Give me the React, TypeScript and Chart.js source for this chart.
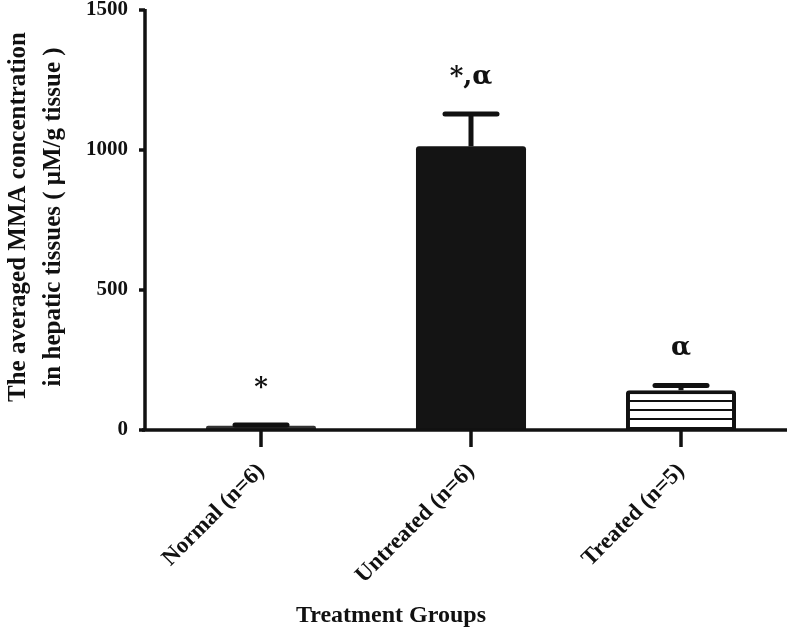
import React, { useEffect, useRef } from "react";
import { Chart, registerables } from "chart.js";

Chart.register(...registerables);

const categories = ["Normal (n=6)", "Untreated (n=6)", "Treated (n=5)"];
const means = [15, 1013, 142];
const sems = [3, 116, 17];
const marks = ["*", "*,α", "α"];
const yTickValues = [0, 500, 1000, 1500];
const yTitleLines = ["The averaged MMA concentration", "in hepatic tissues ( μM/g tissue )"];
const xTitle = "Treatment Groups";

const FONT = "'Liberation Serif', 'Times New Roman', serif";
const MARK_FONT = "'DejaVu Serif', 'Liberation Serif', serif";
const PLOT_TOP = 10;

function makeStripePattern(): CanvasPattern | string {
  const c = document.createElement("canvas");
  c.width = 10;
  c.height = 9;
  const g = c.getContext("2d");
  if (!g) return "#fff";
  g.fillStyle = "#fff";
  g.fillRect(0, 0, 10, 9);
  g.fillStyle = "#111";
  g.fillRect(0, 4, 10, 2);
  const p = g.createPattern(c, "repeat");
  return p || "#fff";
}

const topFixPlugin = {
  id: "topFix",
  afterLayout(chart: any) {
    const y = chart.scales.y;
    chart.chartArea.top = PLOT_TOP;
    chart.chartArea.height = chart.chartArea.bottom - PLOT_TOP;
    y.top = PLOT_TOP;
    y.height = y.bottom - PLOT_TOP;
    y.configure();
  },
};

const decorPlugin = {
  id: "decor",
  afterDatasetsDraw(chart: any) {
    const ctx = chart.ctx;
    const x = chart.scales.x;
    const y = chart.scales.y;
    const area = chart.chartArea;
    const axisX = area.left - 11;
    ctx.save();
    // error bars
    ctx.strokeStyle = "#111";
    ctx.lineCap = "butt";
    means.forEach((m, i) => {
      const cx = x.getPixelForValue(i);
      const yTop = y.getPixelForValue(m + sems[i]);
      const yBar = y.getPixelForValue(m);
      ctx.lineWidth = 5;
      ctx.beginPath();
      ctx.moveTo(cx, yBar);
      ctx.lineTo(cx, yTop);
      ctx.stroke();
      ctx.fillStyle = "#111";
      const w = 57;
      ctx.beginPath();
      ctx.roundRect(cx - w / 2, yTop - 2.5, w, 5, 2.5);
      ctx.fill();
    });
    // annotations
    ctx.fillStyle = "#111";
    ctx.font = `bold 26px ${MARK_FONT}`;
    ctx.textAlign = "center";
    ctx.textBaseline = "alphabetic";
    marks.forEach((t, i) => {
      const cx = x.getPixelForValue(i);
      const yTop = y.getPixelForValue(means[i] + sems[i]);
      ctx.fillText(t, cx, yTop - 30);
    });
    // axes
    ctx.strokeStyle = "#111";
    ctx.lineWidth = 3.5;
    ctx.beginPath();
    ctx.moveTo(axisX, y.getPixelForValue(1500) - 1);
    ctx.lineTo(axisX, y.getPixelForValue(0));
    ctx.stroke();
    ctx.beginPath();
    ctx.moveTo(axisX - 3, y.getPixelForValue(0));
    ctx.lineTo(area.right + 1, y.getPixelForValue(0));
    ctx.stroke();
    yTickValues.forEach((v) => {
      const py = y.getPixelForValue(v);
      ctx.beginPath();
      ctx.moveTo(axisX - 6, py);
      ctx.lineTo(axisX, py);
      ctx.stroke();
    });
    categories.forEach((_, i) => {
      const px = x.getPixelForValue(i);
      const py = y.getPixelForValue(0);
      ctx.beginPath();
      ctx.moveTo(px, py);
      ctx.lineTo(px, py + 17);
      ctx.stroke();
    });
    // y title
    ctx.fillStyle = "#111";
    ctx.font = `bold 25px ${FONT}`;
    ctx.textAlign = "center";
    ctx.textBaseline = "alphabetic";
    ctx.translate(0, 217);
    ctx.rotate(-Math.PI / 2);
    ctx.fillText(yTitleLines[0], 0, 25);
    ctx.fillText(yTitleLines[1], 0, 60);
    ctx.restore();
    // x title
    ctx.save();
    ctx.fillStyle = "#111";
    ctx.font = `bold 24px ${FONT}`;
    ctx.textAlign = "center";
    ctx.textBaseline = "alphabetic";
    ctx.fillText(xTitle, 391, 622);
    ctx.restore();
  },
};

export default function App() {
  const ref = useRef<HTMLCanvasElement | null>(null);
  useEffect(() => {
    document.body.style.margin = "0";
    const canvas = ref.current;
    if (!canvas) return;
    const stripes = makeStripePattern();
    const chart = new Chart(canvas, {
      type: "bar",
      data: {
        labels: categories,
        datasets: [
          {
            data: means,
            backgroundColor: ["#333333", "#141414", stripes as any],
            borderColor: ["#333333", "#141414", "#111111"],
            borderWidth: [0, 0, 4],
            borderRadius: 3,
            borderSkipped: "bottom",
            barPercentage: 0.524,
            categoryPercentage: 1,
          },
        ],
      },
      options: {
        responsive: false,
        animation: false,
        events: [],
        layout: { padding: { top: 10, right: 6, left: 0, bottom: 0 } },
        plugins: { legend: { display: false }, tooltip: { enabled: false }, title: { display: false } },
        scales: {
          x: {
            type: "category",
            offset: true,
            grid: { display: false, drawTicks: false },
            border: { display: false },
            ticks: {
              color: "#111",
              font: { family: FONT, size: 23, weight: "bold" },
              maxRotation: 45,
              minRotation: 45,
              padding: 28,
              autoSkip: false,
            },
            afterFit: (s: any) => {
              s.height = 204;
            },
          },
          y: {
            min: 0,
            max: 1500,
            grid: { display: false, drawTicks: false },
            border: { display: false },
            afterBuildTicks: (s: any) => {
              s.ticks = yTickValues.map((v) => ({ value: v }));
            },
            ticks: {
              color: "#111",
              font: { family: FONT, size: 21, weight: "bold" },
              padding: 28,
              callback: (v: any) => String(v),
            },
            afterFit: (s: any) => {
              s.width = 156;
            },
          },
        },
      },
      plugins: [topFixPlugin, decorPlugin],
    });
    return () => chart.destroy();
  }, []);
  return <canvas ref={ref} width={792} height={634} style={{ display: "block" }} />;
}
